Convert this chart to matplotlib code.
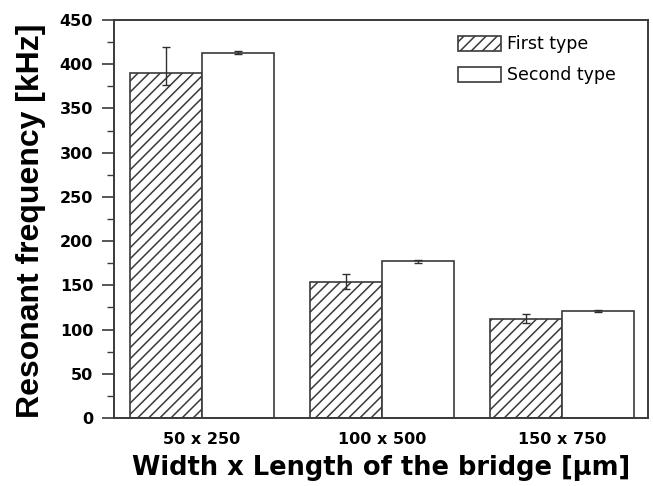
import matplotlib
matplotlib.use("Agg")
import matplotlib.pyplot as plt
import numpy as np
from matplotlib.ticker import MultipleLocator

plt.rcParams['font.family'] = ['DejaVu Sans']
plt.rcParams['hatch.linewidth'] = 1.1
plt.rcParams['hatch.color'] = '#555555'

categories = ["50 x 250", "100 x 500", "150 x 750"]
first_type = [390, 154, 112]
first_err_low = [13, 8.5, 5]
first_err_high = [30, 8.5, 6]
second_type = [413, 177, 121]
second_err = [2, 2, 1]

fig = plt.figure(figsize=(6.53, 4.86), dpi=100)
ax = fig.add_axes([114/653, 1-418/486, (648-114)/653, (418-20)/486])

x = np.arange(1, len(categories) + 1)
w = 0.40
edge = '#3a3a3a'
err_style = dict(ecolor='#303030', elinewidth=1.0, capsize=3.2, capthick=1.0)
ax.bar(x - w/2, first_type, w, color='white', edgecolor=edge, hatch='///',
       linewidth=1.2, label='First type',
       yerr=[first_err_low, first_err_high], error_kw=err_style)
ax.bar(x + w/2, second_type, w, color='white', edgecolor=edge,
       linewidth=1.2, label='Second type',
       yerr=second_err, error_kw=err_style)

ax.set_xlim(0.511, 3.478)
ax.set_ylim(0, 450)
ax.set_xticks(x)
ax.set_xticklabels(categories, fontsize=11.5, fontweight='bold')
ax.yaxis.set_major_locator(MultipleLocator(50))
ax.yaxis.set_minor_locator(MultipleLocator(25))
ax.tick_params(axis='y', which='major', length=9, width=1.2, color=edge,
               labelsize=11.5, direction='out', pad=6)
ax.tick_params(axis='y', which='minor', length=5, width=1.0, color=edge, direction='out')
ax.tick_params(axis='x', length=0, pad=10)
for lbl in ax.get_yticklabels():
    lbl.set_fontweight('bold')

for s in ax.spines.values():
    s.set_linewidth(1.4)
    s.set_color(edge)

ax.set_ylabel('Resonant frequency [kHz]', fontsize=23, fontweight='bold',
              family='Liberation Sans')
ax.yaxis.set_label_coords(-0.127, 0.495)
ax.set_xlabel('Width x Length of the bridge [μm]', fontsize=18.5, fontweight='bold',
              labelpad=6)

leg = ax.legend(loc='upper left', bbox_to_anchor=(0.644, 0.962), frameon=False,
                fontsize=12.5, handlelength=2.5, handleheight=0.95, handletextpad=0.35,
                labelspacing=0.75, borderaxespad=0.0, borderpad=0.0)

fig.savefig('out.png', dpi=100)
